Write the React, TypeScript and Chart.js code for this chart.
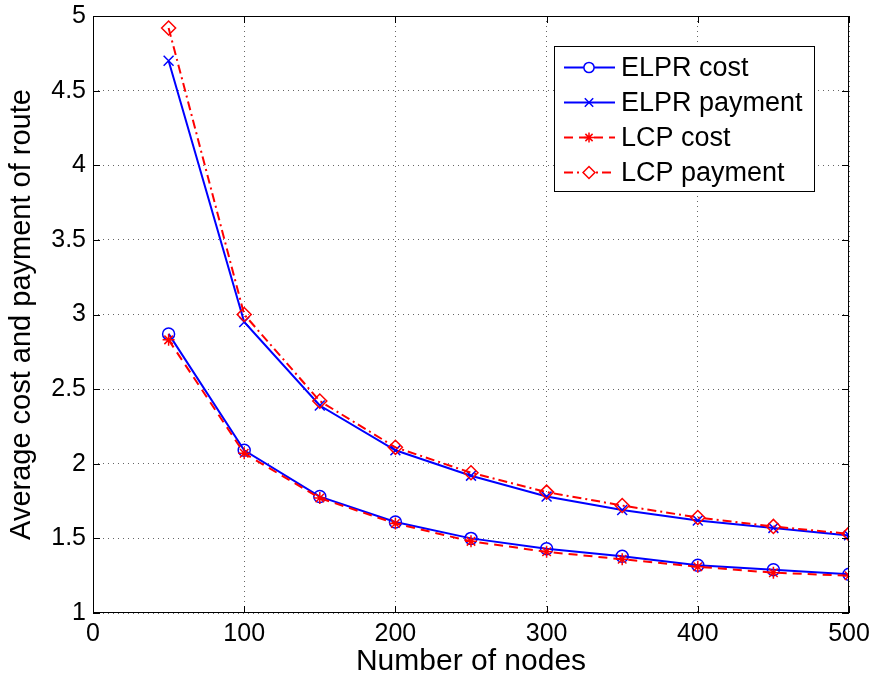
import React, { useEffect, useRef } from 'react';
import { Chart, registerables } from 'chart.js';
import { drawPoint } from 'chart.js/helpers';

Chart.register(...registerables);

const nodes = [50, 100, 150, 200, 250, 300, 350, 400, 450, 500];
const elprCost = [2.87, 2.09, 1.78, 1.61, 1.5, 1.43, 1.38, 1.32, 1.29, 1.26];
const elprPayment = [4.7, 2.95, 2.39, 2.09, 1.92, 1.78, 1.69, 1.62, 1.57, 1.52];
const lcpCost = [2.83, 2.07, 1.77, 1.6, 1.48, 1.41, 1.36, 1.31, 1.27, 1.25];
const lcpPayment = [4.92, 3.0, 2.42, 2.11, 1.94, 1.81, 1.72, 1.64, 1.58, 1.53];
const seriesLabels = ['ELPR cost', 'ELPR payment', 'LCP cost', 'LCP payment'];
const xTitle = 'Number of nodes';
const yTitle = 'Average cost and payment of route';

const FONT = '"Liberation Sans", Arial, Helvetica, sans-serif';

const toPts = (ys: number[]) => nodes.map((x, i) => ({ x, y: ys[i] }));

const boxPlugin = {
  id: 'matlabBox',
  afterDatasetsDraw(chart: any) {
    const { ctx, chartArea: ca, scales } = chart;
    ctx.save();
    ctx.strokeStyle = '#000';
    ctx.lineWidth = 1;
    ctx.strokeRect(ca.left + 0.5, ca.top + 0.5, ca.right - ca.left - 1, ca.bottom - ca.top - 1);
    const tl = 7;
    ctx.beginPath();
    scales.x.ticks.forEach((t: any) => {
      const px = Math.round(scales.x.getPixelForValue(t.value)) + 0.5;
      ctx.moveTo(px, ca.bottom);
      ctx.lineTo(px, ca.bottom - tl);
      ctx.moveTo(px, ca.top);
      ctx.lineTo(px, ca.top + tl);
    });
    scales.y.ticks.forEach((t: any) => {
      const py = Math.round(scales.y.getPixelForValue(t.value)) + 0.5;
      ctx.moveTo(ca.left, py);
      ctx.lineTo(ca.left + tl, py);
      ctx.moveTo(ca.right, py);
      ctx.lineTo(ca.right - tl, py);
    });
    ctx.stroke();
    ctx.restore();
  },
};

const legendPlugin = {
  id: 'matlabLegend',
  afterDraw(chart: any) {
    const { ctx, chartArea: ca } = chart;
    const bx = ca.left + 461;
    const by = ca.top + 30;
    const bw = 260;
    const bh = 145;
    ctx.save();
    ctx.fillStyle = '#fff';
    ctx.fillRect(bx, by, bw, bh);
    ctx.strokeStyle = '#000';
    ctx.lineWidth = 1;
    ctx.strokeRect(bx + 0.5, by + 0.5, bw, bh);
    chart.data.datasets.forEach((ds: any, i: number) => {
      const cy = by + 21.5 + i * 35;
      ctx.save();
      ctx.strokeStyle = ds.borderColor;
      ctx.lineWidth = ds.borderWidth;
      ctx.setLineDash(ds.borderDash || []);
      ctx.beginPath();
      ctx.moveTo(bx + 10, cy);
      ctx.lineTo(bx + 61, cy);
      ctx.stroke();
      ctx.setLineDash([]);
      ctx.strokeStyle = ds.pointBorderColor;
      ctx.fillStyle = '#fff';
      ctx.lineWidth = ds.pointBorderWidth;
      drawPoint(ctx, { pointStyle: ds.pointStyle, radius: ds.pointRadius * 0.85, borderWidth: ds.pointBorderWidth, rotation: 0 } as any, bx + 35, cy);
      ctx.restore();
      ctx.fillStyle = '#000';
      ctx.font = `27px ${FONT}`;
      ctx.textBaseline = 'middle';
      ctx.textAlign = 'left';
      ctx.fillText(seriesLabels[i], bx + 67, cy + 1);
    });
    ctx.restore();
  },
};

export default function App() {
  const ref = useRef<HTMLCanvasElement | null>(null);
  useEffect(() => {
    if (!ref.current) return;
    const mk = (label: string, ys: number[], color: string, style: string, dash: number[], r: number, order: number) => ({
      label,
      data: toPts(ys),
      borderColor: color,
      backgroundColor: color,
      borderWidth: 2,
      borderDash: dash,
      pointStyle: style,
      pointRadius: r,
      pointBorderColor: color,
      pointBackgroundColor: 'rgba(0,0,0,0)',
      pointBorderWidth: 1.5,
      tension: 0,
      order,
    });
    const chart = new Chart(ref.current, {
      type: 'line',
      data: {
        datasets: [
          mk(seriesLabels[0], elprCost, '#0000ff', 'circle', [], 6, 4),
          mk(seriesLabels[1], elprPayment, '#0000ff', 'crossRot', [], 7, 3),
          mk(seriesLabels[2], lcpCost, '#ff0000', 'star', [9, 6], 6, 2),
          mk(seriesLabels[3], lcpPayment, '#ff0000', 'rectRot', [9, 4, 2, 4], 7, 1),
        ] as any,
      },
      options: {
        responsive: false,
        animation: false,
        layout: { padding: { left: 0, top: 16, right: 24, bottom: 0 } },
        plugins: { legend: { display: false }, tooltip: { enabled: false } },
        scales: {
          x: {
            type: 'linear',
            min: 0,
            max: 500,
            ticks: { stepSize: 100, color: '#000', font: { family: FONT, size: 25 }, padding: 6, maxRotation: 0 },
            grid: { drawTicks: false, color: '#666', lineWidth: 1 },
            border: { display: false, dash: [1, 4] },
            title: { display: true, text: xTitle, color: '#000', font: { family: FONT, size: 30 }, padding: 0 },
            afterFit: (s: any) => { s.height = 67; s.paddingLeft = 0; s.paddingRight = 0; },
          },
          y: {
            type: 'linear',
            min: 1,
            max: 5,
            ticks: {
              stepSize: 0.5,
              color: '#000',
              font: { family: FONT, size: 25 },
              padding: 7,
              callback: (v: any) => String(v),
            },
            grid: { drawTicks: false, color: '#666', lineWidth: 1 },
            border: { display: false, dash: [1, 4] },
            title: { display: true, text: yTitle, color: '#000', font: { family: FONT, size: 29 }, padding: 5 },
            afterFit: (s: any) => { s.width = 93; s.paddingTop = 0; s.paddingBottom = 0; },
          },
        },
      } as any,
      plugins: [boxPlugin, legendPlugin],
    });
    return () => chart.destroy();
  }, []);
  return (
    <div style={{ position: 'absolute', left: 0, top: 0, width: 873, height: 680, background: '#fff' }}>
      <canvas ref={ref} width={873} height={680} style={{ display: 'block' }} />
    </div>
  );
}
